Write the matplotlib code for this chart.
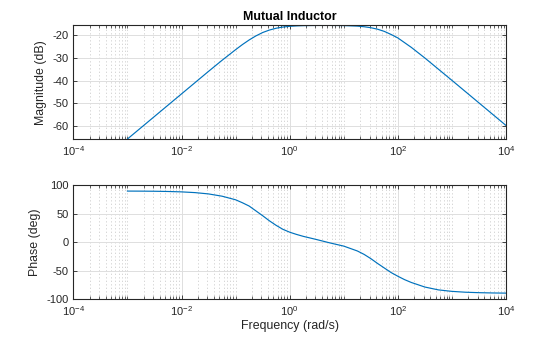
import matplotlib
matplotlib.use("Agg")
import matplotlib.pyplot as plt
from matplotlib.ticker import FixedLocator, LogFormatterSciNotation, NullFormatter

plt.rcParams['font.family'] = ['Liberation Sans', 'DejaVu Sans']
plt.rcParams['mathtext.default'] = 'regular'
plt.rcParams['axes.unicode_minus'] = False

# Frequency samples (rad/s), log10 exponents read along the x axis
log_freq = [-3.0, -2.75, -2.5, -2.25, -2.0, -1.75, -1.5, -1.25, -1.0, -0.875,
            -0.75, -0.625, -0.5, -0.375, -0.25, -0.125, 0.0, 0.125, 0.25, 0.5,
            0.75, 1.0, 1.25, 1.375, 1.5, 1.625, 1.75, 1.875, 2.0, 2.125,
            2.25, 2.5, 2.75, 3.0, 3.25, 3.5, 3.75, 4.0]
# Magnitude (dB)
magnitude = [-65.9, -60.9, -55.9, -50.9, -45.9, -40.9, -35.9, -31.0, -26.3, -24.05,
             -22.0, -20.2, -18.7, -17.6, -16.8, -16.27, -15.95, -15.76, -15.65, -15.56,
             -15.55, -15.62, -15.86, -16.13, -16.56, -17.23, -18.2, -19.56, -21.1, -23.2,
             -25.3, -30.0, -34.95, -39.9, -44.9, -49.9, -54.9, -59.9]
# Phase (deg)
phase = [89.8, 89.7, 89.5, 89.1, 88.4, 87.1, 84.8, 80.8, 74.5, 69.3,
         63.5, 55.0, 46.5, 37.5, 29.5, 22.5, 17.5, 13.6, 10.2, 4.5,
         -1.5, -7.0, -15.5, -21.5, -29.0, -37.5, -45.5, -53.5, -60.0, -66.0,
         -71.0, -79.0, -84.0, -86.6, -88.1, -88.9, -89.4, -89.7]

title = "Mutual Inductor"
mag_label = "Magnitude (dB)"
phase_label = "Phase (deg)"
x_label = "Frequency (rad/s)"
x_major = [1e-4, 1e-2, 1e0, 1e2, 1e4]
mag_ticks = [-60, -50, -40, -30, -20]
phase_ticks = [-100, -50, 0, 50, 100]

freq = [10.0 ** v for v in log_freq]

fig = plt.figure(figsize=(5.6, 3.37), dpi=100)
ax1 = fig.add_axes([0.131, 0.5875, 0.7726, 0.3374])
ax2 = fig.add_axes([0.131, 0.1128, 0.7726, 0.3374])

line_color = '#0072BD'
txt = '#262626'
minor = [m * 10.0 ** k for k in range(-4, 4) for m in range(1, 10) if not (m == 1 and k % 2 == 0)]

for ax in (ax1, ax2):
    ax.set_xscale('log')
    ax.set_xlim(1e-4, 1e4)
    ax.xaxis.set_major_locator(FixedLocator(x_major))
    ax.xaxis.set_minor_locator(FixedLocator(minor))
    ax.xaxis.set_major_formatter(LogFormatterSciNotation())
    ax.xaxis.set_minor_formatter(NullFormatter())
    ax.grid(True, which='major', color='#dedede', linewidth=0.7, linestyle='-')
    ax.grid(True, which='minor', axis='x', color='#d0d0d0', linewidth=0.6, linestyle=(0, (1.6, 2.6)))
    ax.set_axisbelow(True)
    ax.tick_params(which='both', direction='in', top=True, right=True, colors=txt,
                   labelsize=8, pad=3.5)
    ax.tick_params(which='major', length=3, width=0.6)
    ax.tick_params(which='minor', length=2, width=0.5)
    for s in ax.spines.values():
        s.set_color(txt)
        s.set_linewidth(0.8)

ax1.plot(freq, magnitude, color=line_color, linewidth=0.85)
ax1.set_ylim(-65.9, -15.5)
ax1.set_yticks(mag_ticks)
ax1.set_ylabel(mag_label, fontsize=8.9, color=txt, labelpad=4)
ax1.set_title(title, fontsize=8.9, fontweight='bold', color='black', pad=3.5)

ax2.plot(freq, phase, color=line_color, linewidth=0.85)
ax2.set_ylim(-100, 100)
ax2.set_yticks(phase_ticks)
ax2.set_ylabel(phase_label, fontsize=8.9, color=txt, labelpad=4)
ax2.set_xlabel(x_label, fontsize=8.9, color=txt, labelpad=2)

fig.savefig('out.png', dpi=100)
